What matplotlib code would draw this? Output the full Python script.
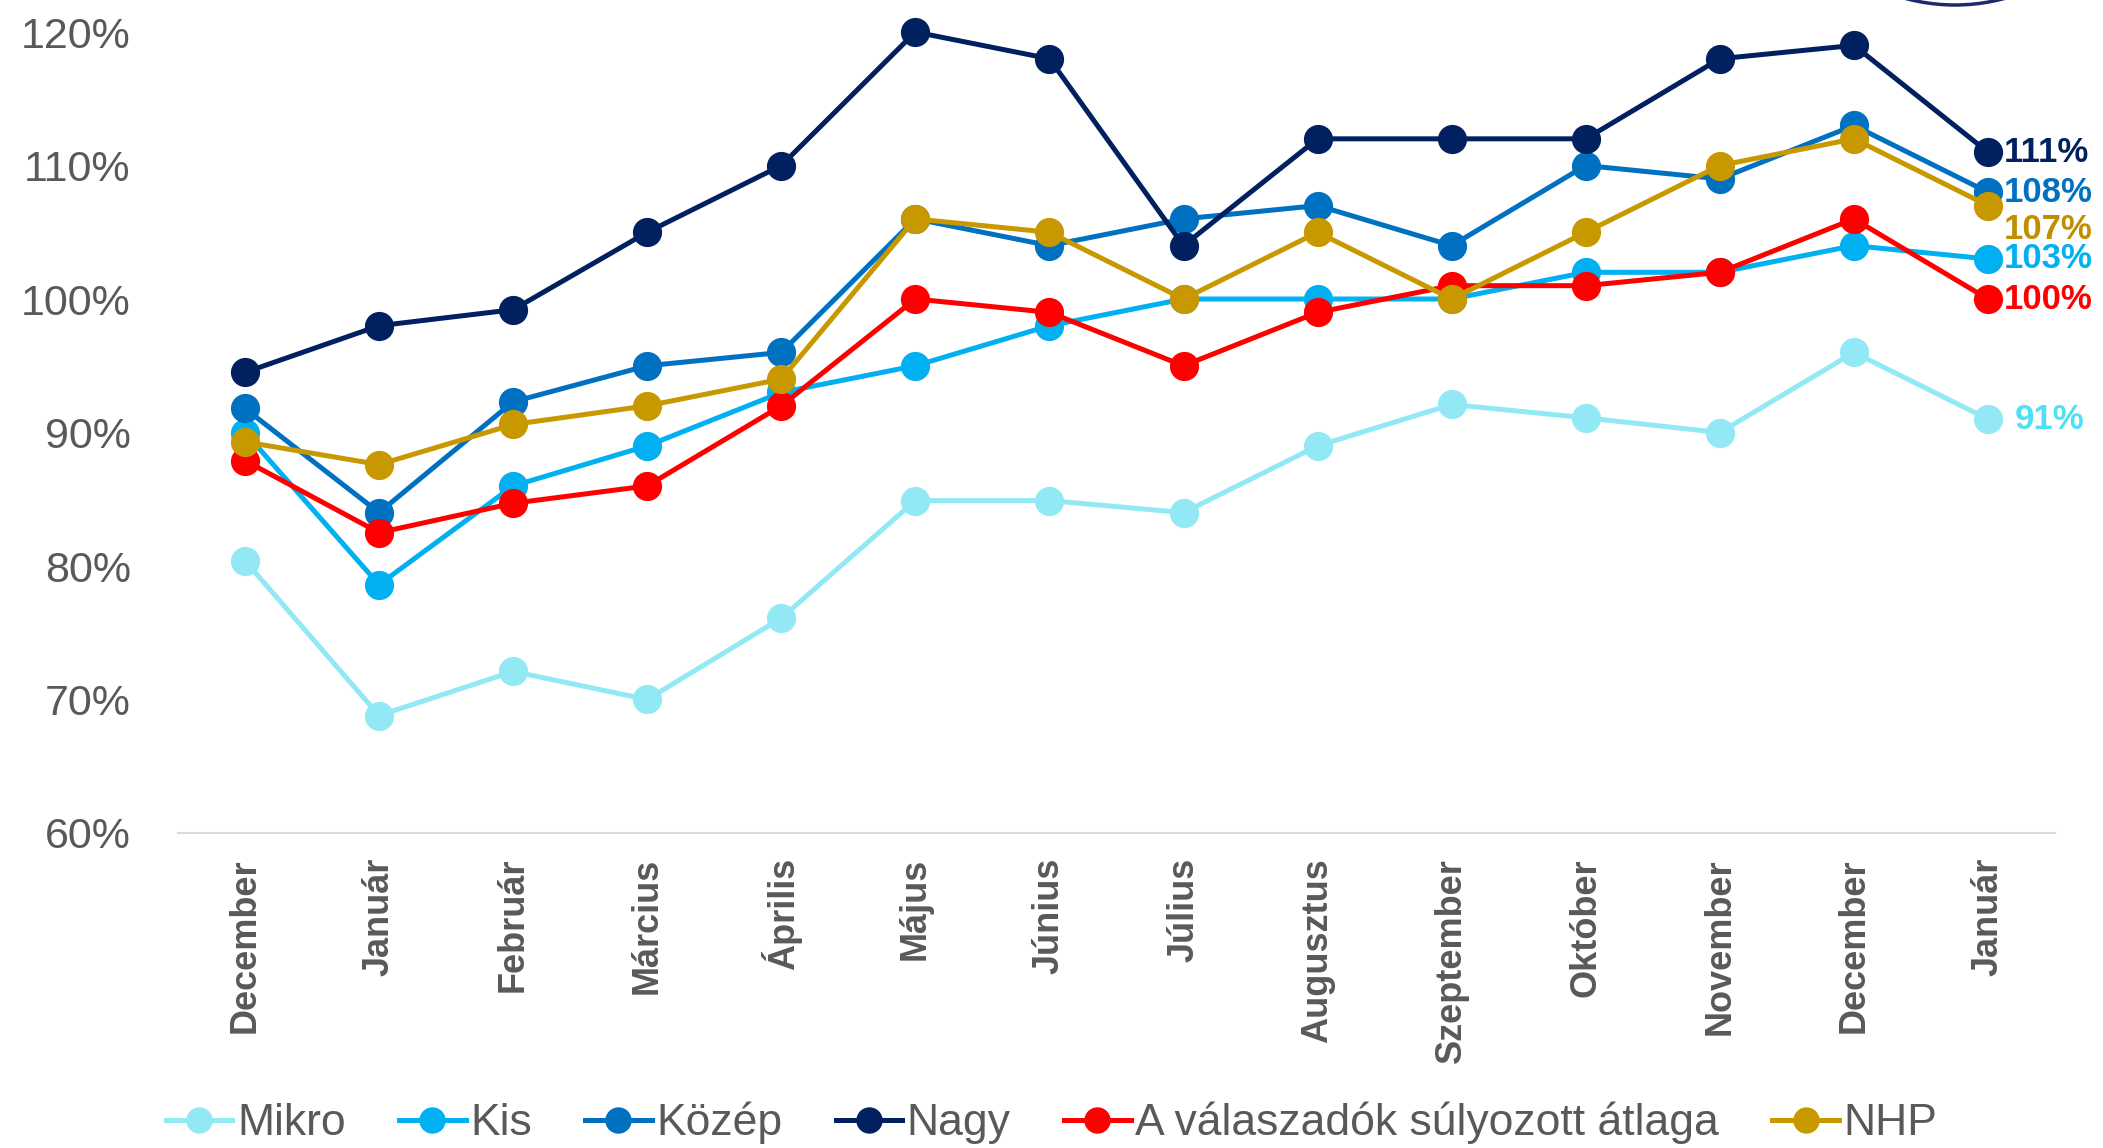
import matplotlib
matplotlib.use("Agg")
import matplotlib.pyplot as plt
from matplotlib.patches import Ellipse

plt.rcParams['font.family'] = ['Liberation Sans Narrow', 'Liberation Sans', 'DejaVu Sans']

months = ["December", "Január", "Február", "Március", "Április", "Május", "Június",
          "Július", "Augusztus", "Szeptember", "Október", "November", "December", "Január"]

mikro = [80.4, 68.8, 72.1, 70.0, 76.1, 84.9, 84.9, 84.0, 89.0, 92.1, 91.1, 90.0, 96.0, 91.0]
kis = [90.0, 78.6, 86.0, 89.0, 93.0, 95.0, 98.0, 100.0, 100.0, 100.0, 102.0, 102.0, 104.0, 103.0]
kozep = [91.8, 84.0, 92.3, 95.0, 96.0, 106.0, 104.0, 106.0, 107.0, 104.0, 110.0, 109.0, 113.0, 108.0]
nagy = [94.5, 98.0, 99.2, 105.0, 110.0, 120.0, 118.0, 104.0, 112.0, 112.0, 112.0, 118.0, 119.0, 111.0]
atlag = [87.9, 82.5, 84.7, 86.0, 92.0, 100.0, 99.0, 95.0, 99.0, 101.0, 101.0, 102.0, 106.0, 100.0]
nhp = [89.3, 87.6, 90.6, 92.0, 94.0, 106.0, 105.0, 100.0, 105.0, 100.0, 105.0, 110.0, 112.0, 107.0]

series = [
    ("Mikro", mikro, "#92E9F5", "#4FE1F3", 0),
    ("Kis", kis, "#00B0F0", "#00B0F0", 0),
    ("Közép", kozep, "#0070C0", "#0070C0", 0),
    ("Nagy", nagy, "#002060", "#002060", 0),
    ("A válaszadók súlyozott átlaga", atlag, "#FF0000", "#FF0000", 0),
    ("NHP", nhp, "#C89800", "#BF8F00", -17),
]

fig = plt.figure(figsize=(21.03, 11.48), dpi=100)
ax = fig.add_axes([0.0846, 0.2744, 0.8926, 0.6977])

x = list(range(len(months)))
for name, vals, col, lab_col, dy in series:
    ax.plot(x, vals, color=col, lw=3.6, marker="o", markersize=20,
            label=name, clip_on=False, solid_joinstyle="round")
    dx = 19 if name == "Mikro" else 11
    ax.annotate(f"{vals[-1]:.0f}%", (x[-1], vals[-1]), xytext=(dx, dy),
                textcoords="offset points", ha="left", va="center",
                fontsize=25, fontweight="bold", color=lab_col,
                annotation_clip=False)

ax.set_xlim(-0.5, len(months) - 0.5)
ax.set_ylim(60, 120)
ax.set_yticks(range(60, 121, 10))
ax.set_yticklabels([f"{v}%" for v in range(60, 121, 10)])
ax.set_xticks(x)
ax.set_xticklabels(months, rotation=90, fontweight="bold", fontsize=26)
ax.tick_params(axis="y", length=0, pad=34, labelsize=31, labelcolor="#595959")
ax.tick_params(axis="x", length=0, pad=18, labelcolor="#595959")

for s in ["top", "right", "left"]:
    ax.spines[s].set_visible(False)
ax.spines["bottom"].set_color("#D9D9D9")
ax.spines["bottom"].set_linewidth(1.5)

leg = fig.legend(loc="center", bbox_to_anchor=(0.5, 1 - 1123 / 1148), ncol=6,
                 frameon=False, fontsize=32, handlelength=1.5, handletextpad=0.1,
                 columnspacing=1.2, markerscale=0.9)
for t in leg.get_texts():
    t.set_color("#595959")

# cut-off logo ring at the top
W, H = 2103, 1148
fig.add_artist(Ellipse((1955 / W, 1 + 185 / H), 2 * 190 / W, 2 * 190 / H,
                       transform=fig.transFigure, fill=False,
                       edgecolor="#1F2A6B", lw=2.5))

fig.savefig("out.png", dpi=100)
